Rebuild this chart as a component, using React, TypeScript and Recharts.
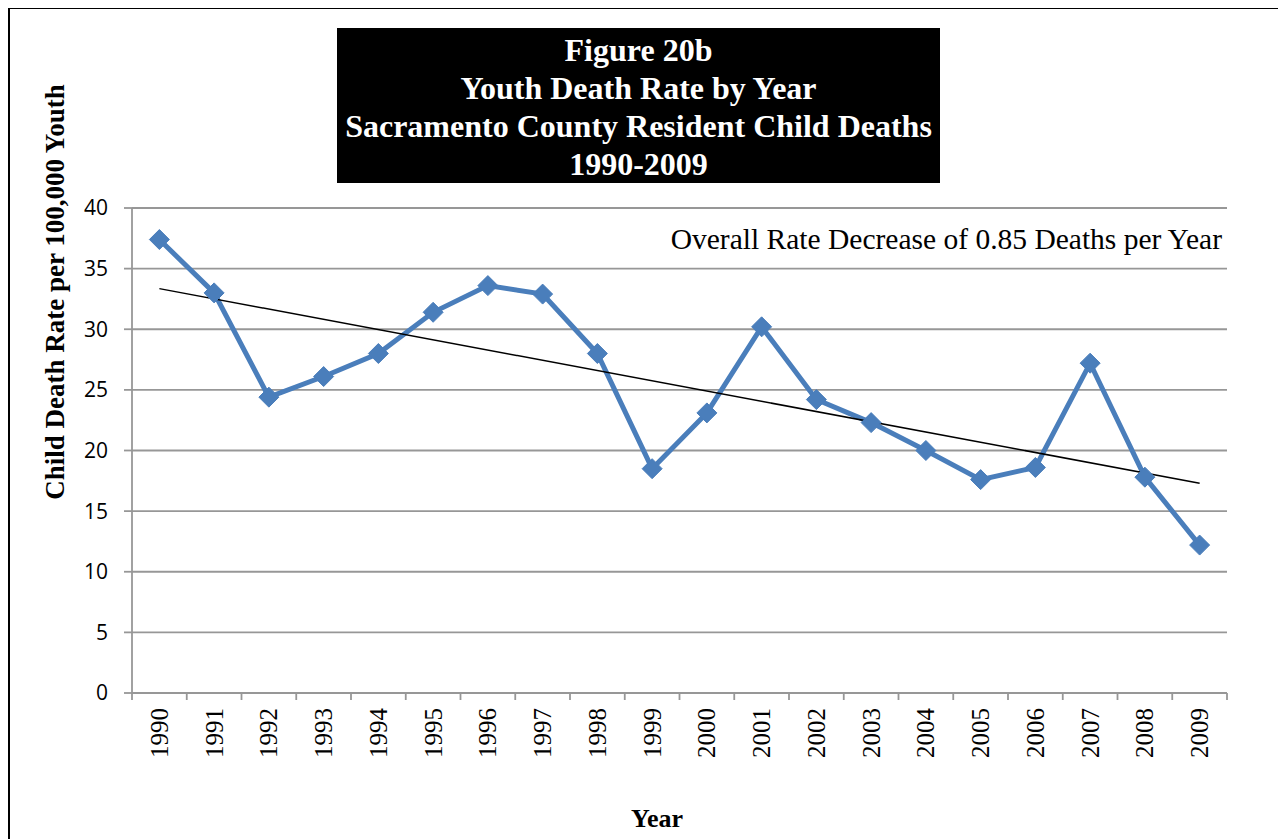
import React from "react";
import { LineChart, Line, XAxis, YAxis, CartesianGrid } from "recharts";

const years = [
  "1990", "1991", "1992", "1993", "1994", "1995", "1996", "1997", "1998", "1999",
  "2000", "2001", "2002", "2003", "2004", "2005", "2006", "2007", "2008", "2009",
];
const deathRates = [
  37.4, 33.0, 24.4, 26.1, 28.0, 31.4, 33.6, 32.9, 28.0, 18.5,
  23.1, 30.2, 24.2, 22.3, 20.0, 17.6, 18.6, 27.2, 17.8, 12.2,
];
// linear trendline end points (first & last year)
const trendYears = ["1990", "2009"];
const trendValues = [33.35, 17.3];
const yTicks = [0, 5, 10, 15, 20, 25, 30, 35, 40];

const titleLines = [
  "Figure 20b",
  "Youth Death Rate by Year",
  "Sacramento County Resident Child Deaths",
  "1990-2009",
];

const W = 1270;
const H = 831;
const MARGIN = { top: 200, right: 51, bottom: 66, left: 64 };
const Y_AXIS_W = 60;
const BAND = (W - MARGIN.left - Y_AXIS_W - MARGIN.right) / years.length;

const BLUE = "#4a7ebb";
const GRID = "#979797";
const SERIF = "'Liberation Serif', 'Times New Roman', serif";

const data = years.map((y, i) => {
  const t = trendYears.indexOf(y);
  return { pos: i + 0.5, year: y, rate: deathRates[i], trend: t >= 0 ? trendValues[t] : null };
});
const xTicks = Array.from({ length: years.length + 1 }, (_, i) => i);

const Diamond = (props: any) => {
  const { cx, cy, index } = props;
  if (cx == null || cy == null) return <g key={index} />;
  const r = 10;
  return (
    <polygon
      key={index}
      points={`${cx},${cy - r} ${cx + r},${cy} ${cx},${cy + r} ${cx - r},${cy}`}
      fill={BLUE}
      stroke={BLUE}
      strokeWidth={1}
    />
  );
};

const YearTick = (props: any) => {
  const { x, y, payload } = props;
  const i = payload.value;
  if (i >= years.length) return <g />;
  return (
    <text
      transform={`translate(${x + BAND / 2},${y}) rotate(-90)`}
      textAnchor="end"
      dominantBaseline="central"
      style={{ fontFamily: SERIF, fontSize: 25 }}
      fill="#000"
    >
      {years[i]}
    </text>
  );
};

export default function App() {
  return (
    <div style={{ position: "fixed", left: 8, top: 8, width: W, height: H, overflow: "hidden", background: "#fff" }}>
      {/* frame, only top/left edges visible */}
      <div style={{ position: "absolute", left: 0, top: -1, width: 2000, height: 2000, border: "2px solid #000", boxSizing: "border-box" }} />

      <div style={{ position: "absolute", left: 0, top: 0 }}>
        <LineChart width={W} height={H} data={data} margin={MARGIN}>
          <CartesianGrid vertical={false} stroke={GRID} strokeWidth={1.8} />
          <XAxis
            dataKey="pos"
            type="number"
            domain={[0, years.length]}
            ticks={xTicks}
            interval={0}
            height={80}
            axisLine={{ stroke: GRID, strokeWidth: 1.8 }}
            tickLine={{ stroke: GRID, strokeWidth: 1.8 }}
            tickSize={7}
            tickMargin={8}
            tick={<YearTick />}
          />
          <YAxis
            type="number"
            domain={[0, 40]}
            ticks={yTicks}
            interval={0}
            width={Y_AXIS_W}
            axisLine={{ stroke: GRID, strokeWidth: 1.8 }}
            tickLine={{ stroke: GRID, strokeWidth: 1.8 }}
            tickSize={8}
            tickMargin={16}
            tick={{ fill: "#000", fontSize: 21, fontFamily: "'Open Sans', sans-serif" }}
          />
          <Line
            dataKey="rate"
            type="linear"
            stroke={BLUE}
            strokeWidth={5}
            dot={<Diamond />}
            activeDot={false}
            isAnimationActive={false}
          />
          <Line
            dataKey="trend"
            type="linear"
            connectNulls
            stroke="#000"
            strokeWidth={1.5}
            dot={false}
            activeDot={false}
            isAnimationActive={false}
          />
        </LineChart>
      </div>

      {/* title box */}
      <div
        style={{
          position: "absolute",
          left: 329,
          top: 20,
          width: 603,
          height: 155,
          background: "#000",
          color: "#fff",
          fontFamily: SERIF,
          fontWeight: "bold",
          fontSize: 32,
          lineHeight: "38px",
          textAlign: "center",
          paddingTop: 3,
          boxSizing: "border-box",
        }}
      >
        {titleLines.map((l) => (
          <div key={l}>{l}</div>
        ))}
      </div>

      <svg width={W} height={H} style={{ position: "absolute", left: 0, top: 0, pointerEvents: "none" }}>
        <text x={1214} y={241} textAnchor="end" style={{ fontFamily: SERIF, fontSize: 29.5 }} fill="#000">
          Overall Rate Decrease of 0.85 Deaths per Year
        </text>
        <text
          transform="translate(56,284) rotate(-90)"
          textAnchor="middle"
          style={{ fontFamily: SERIF, fontWeight: "bold", fontSize: 27 }}
          fill="#000"
        >
          Child Death Rate per 100,000 Youth
        </text>
        <text x={649} y={819} textAnchor="middle" style={{ fontFamily: SERIF, fontWeight: "bold", fontSize: 26 }} fill="#000">
          Year
        </text>
      </svg>
    </div>
  );
}
